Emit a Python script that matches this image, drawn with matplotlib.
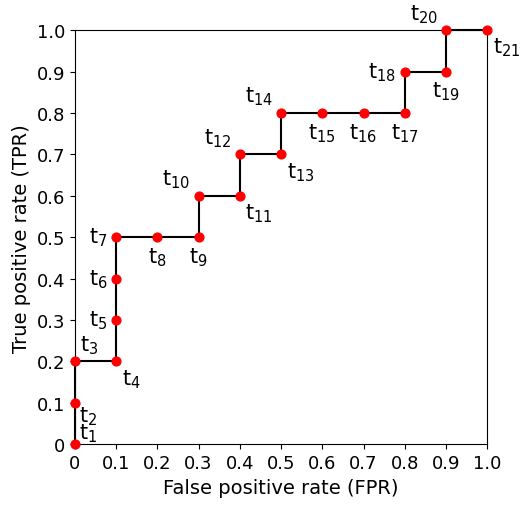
import matplotlib
matplotlib.use("Agg")
import matplotlib.pyplot as plt

FPR = [0, 0, 0, 0.1, 0.1, 0.1, 0.1, 0.2, 0.3, 0.3, 0.4, 0.4, 0.5, 0.5, 0.6, 0.7, 0.8, 0.8, 0.9, 0.9, 1.0]
TPR = [0, 0.1, 0.2, 0.2, 0.3, 0.4, 0.5, 0.5, 0.5, 0.6, 0.6, 0.7, 0.7, 0.8, 0.8, 0.8, 0.8, 0.9, 0.9, 1.0, 1.0]
# label placement: ur=upper right, lr=lower right, l=left, b=below, ul=upper left
PLACE = ["ur0", "lr0", "ur", "lr", "l", "l", "l", "b", "b", "ul", "lr", "ul", "lr", "ul",
         "b", "b", "b", "l", "b", "ul", "lr"]
TICKS = [0, 0.1, 0.2, 0.3, 0.4, 0.5, 0.6, 0.7, 0.8, 0.9, 1.0]
TICK_LABELS = ["0", "0.1", "0.2", "0.3", "0.4", "0.5", "0.6", "0.7", "0.8", "0.9", "1.0"]

OFFSETS = {
    "ur": ((4, 4), "left", "bottom"),
    "ur0": ((3, 0), "left", "bottom"),
    "lr": ((4, -4), "left", "top"),
    "lr0": ((3, -1), "left", "top"),
    "l": ((-6, 0), "right", "center"),
    "b": ((0, -6), "center", "top"),
    "ul": ((-6, 4), "right", "bottom"),
}

fig = plt.figure(figsize=(5.2, 5.1), dpi=100)
ax = fig.add_axes([0.144, 0.127, 0.793, 0.812])
ax.plot(FPR, TPR, color="black", linewidth=1.5, zorder=2, clip_on=False)
ax.scatter(FPR, TPR, s=40, color="red", zorder=3, clip_on=False)
for i, (x, y, p) in enumerate(zip(FPR, TPR, PLACE)):
    off, ha, va = OFFSETS[p]
    ax.annotate(r"$\mathregular{t_{%d}}$" % (i + 1), (x, y), xytext=off,
                textcoords="offset points", ha=ha, va=va, fontsize=15)
ax.set_xlim(0, 1)
ax.set_ylim(0, 1)
ax.set_xticks(TICKS)
ax.set_xticklabels(TICK_LABELS)
ax.set_yticks(TICKS)
ax.set_yticklabels(TICK_LABELS)
ax.tick_params(labelsize=13)
ax.set_xlabel("False positive rate (FPR)", fontsize=14)
ax.set_ylabel("True positive rate (TPR)", fontsize=14)
fig.savefig("out.png", dpi=100)
